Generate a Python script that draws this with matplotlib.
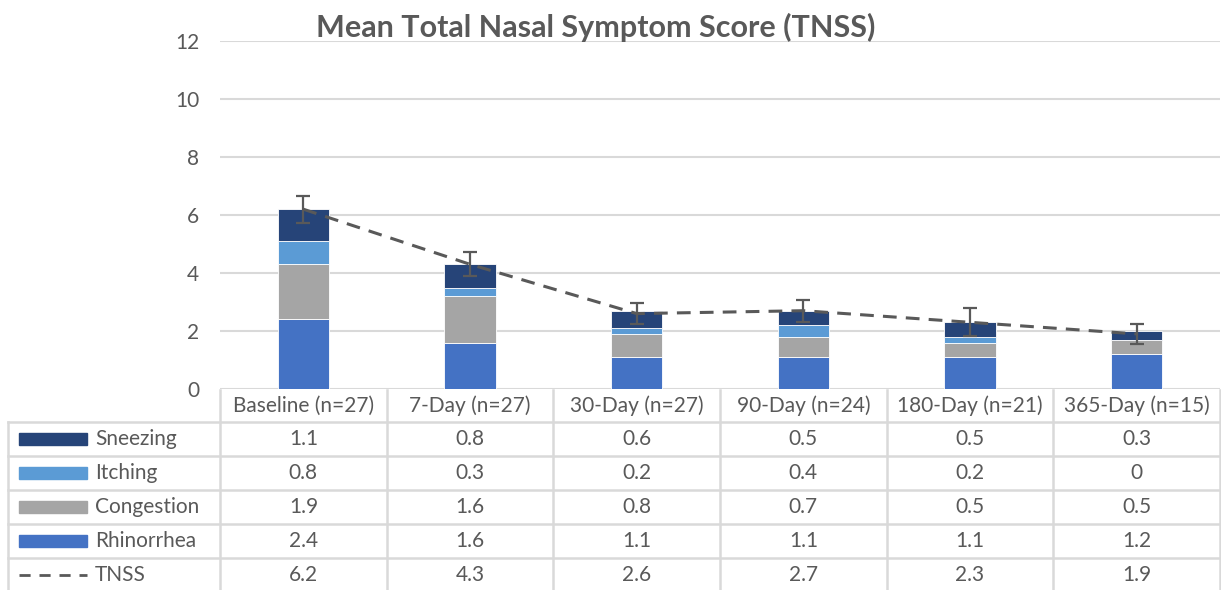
import matplotlib.pyplot as plt
import numpy as np
from matplotlib.transforms import blended_transform_factory

# values
timepoints = ['Baseline (n=27)', '7-Day (n=27)', '30-Day (n=27)',
              '90-Day (n=24)', '180-Day (n=21)', '365-Day (n=15)']
rhinorrhea = [2.4, 1.6, 1.1, 1.1, 1.1, 1.2]
congestion = [1.9, 1.6, 0.8, 0.7, 0.5, 0.5]
itching = [0.8, 0.3, 0.2, 0.4, 0.2, 0]
sneezing = [1.1, 0.8, 0.6, 0.5, 0.5, 0.3]
tnss = [6.2, 4.3, 2.6, 2.7, 2.3, 1.9]
tnss_err = [0.46, 0.42, 0.35, 0.38, 0.48, 0.35]

series = [('Rhinorrhea', rhinorrhea, '#4472C4'),
          ('Congestion', congestion, '#A5A5A5'),
          ('Itching', itching, '#5B9BD5'),
          ('Sneezing', sneezing, '#264478')]

txt = '#595959'
grid = '#D9D9D9'
plt.rcParams['font.family'] = ['Lato', 'DejaVu Sans']
fs = 15

fig = plt.figure(figsize=(12.21, 5.90), dpi=100)
ax = fig.add_axes([220 / 1221, 1 - 389 / 590, 1000 / 1221, 348 / 590])

x = np.arange(len(timepoints))
bottom = np.zeros(len(x))
for name, vals, col in series:
    ax.bar(x, vals, 0.31, bottom=bottom, color=col, edgecolor='white',
           linewidth=0.6, zorder=2)
    bottom += np.array(vals)

ax.plot(x, tnss, color=txt, linestyle=(0, (4.5, 3)), linewidth=2.2, zorder=3)
ax.errorbar(x, tnss, yerr=tnss_err, fmt='none', ecolor=txt, elinewidth=1.6,
            capsize=5, capthick=1.6, zorder=4)

ax.set_xlim(-0.5, 5.5)
ax.set_ylim(0, 12)
ax.set_yticks(range(0, 13, 2))
ax.set_xticks([])
ax.tick_params(axis='y', length=0, pad=15, labelsize=fs, labelcolor=txt)
ax.grid(axis='y', color=grid, linewidth=1.5, zorder=0)
ax.set_axisbelow(True)
for s in ax.spines.values():
    s.set_visible(False)

fig.text(0.488, 0.953, 'Mean Total Nasal Symptom Score (TNSS)', ha='center',
         va='center', fontsize=22, fontweight='bold', color=txt)

# data table under the axis
tr = blended_transform_factory(ax.transData, ax.transAxes)
row_h = 34 / 348
head_top = -1 / 348
rows_top = -33 / 348
left = -0.5 - 212 / 166.8
kw = dict(transform=tr, clip_on=False, color=txt, fontsize=fs, va='center')
lkw = dict(transform=tr, clip_on=False, color=grid, linewidth=1.8)

for i, lab in enumerate(timepoints):
    ax.text(i, (head_top + rows_top) / 2, lab, ha='center', **kw)

table_rows = [('Sneezing', sneezing, '#264478'),
              ('Itching', itching, '#5B9BD5'),
              ('Congestion', congestion, '#A5A5A5'),
              ('Rhinorrhea', rhinorrhea, '#4472C4'),
              ('TNSS', tnss, None)]
sw0 = -0.5 - 201 / 166.8
sw1 = -0.5 - 133 / 166.8
for r, (name, vals, col) in enumerate(table_rows):
    yc = rows_top - (r + 0.5) * row_h
    if col is None:
        ax.plot([sw0, sw1], [yc, yc], color=txt, linestyle=(0, (4, 3.2)),
                linewidth=2, transform=tr, clip_on=False)
    else:
        ax.add_patch(plt.Rectangle((sw0, yc - 6 / 348), sw1 - sw0, 12 / 348,
                                   color=col, transform=tr, clip_on=False))
    ax.text(-0.5 - 125 / 166.8, yc, name, ha='left', **kw)
    for i, v in enumerate(vals):
        ax.text(i, yc, f'{v:g}', ha='center', **kw)

bottom_y = rows_top - 5 * row_h
for r in range(6):
    yy = rows_top - r * row_h
    ax.plot([left, 5.5], [yy, yy], **lkw)
ax.plot([left, left], [rows_top, bottom_y], **lkw)
for c in range(7):
    ax.plot([c - 0.5, c - 0.5], [head_top, bottom_y], **lkw)

fig.savefig('out.png', dpi=100)
